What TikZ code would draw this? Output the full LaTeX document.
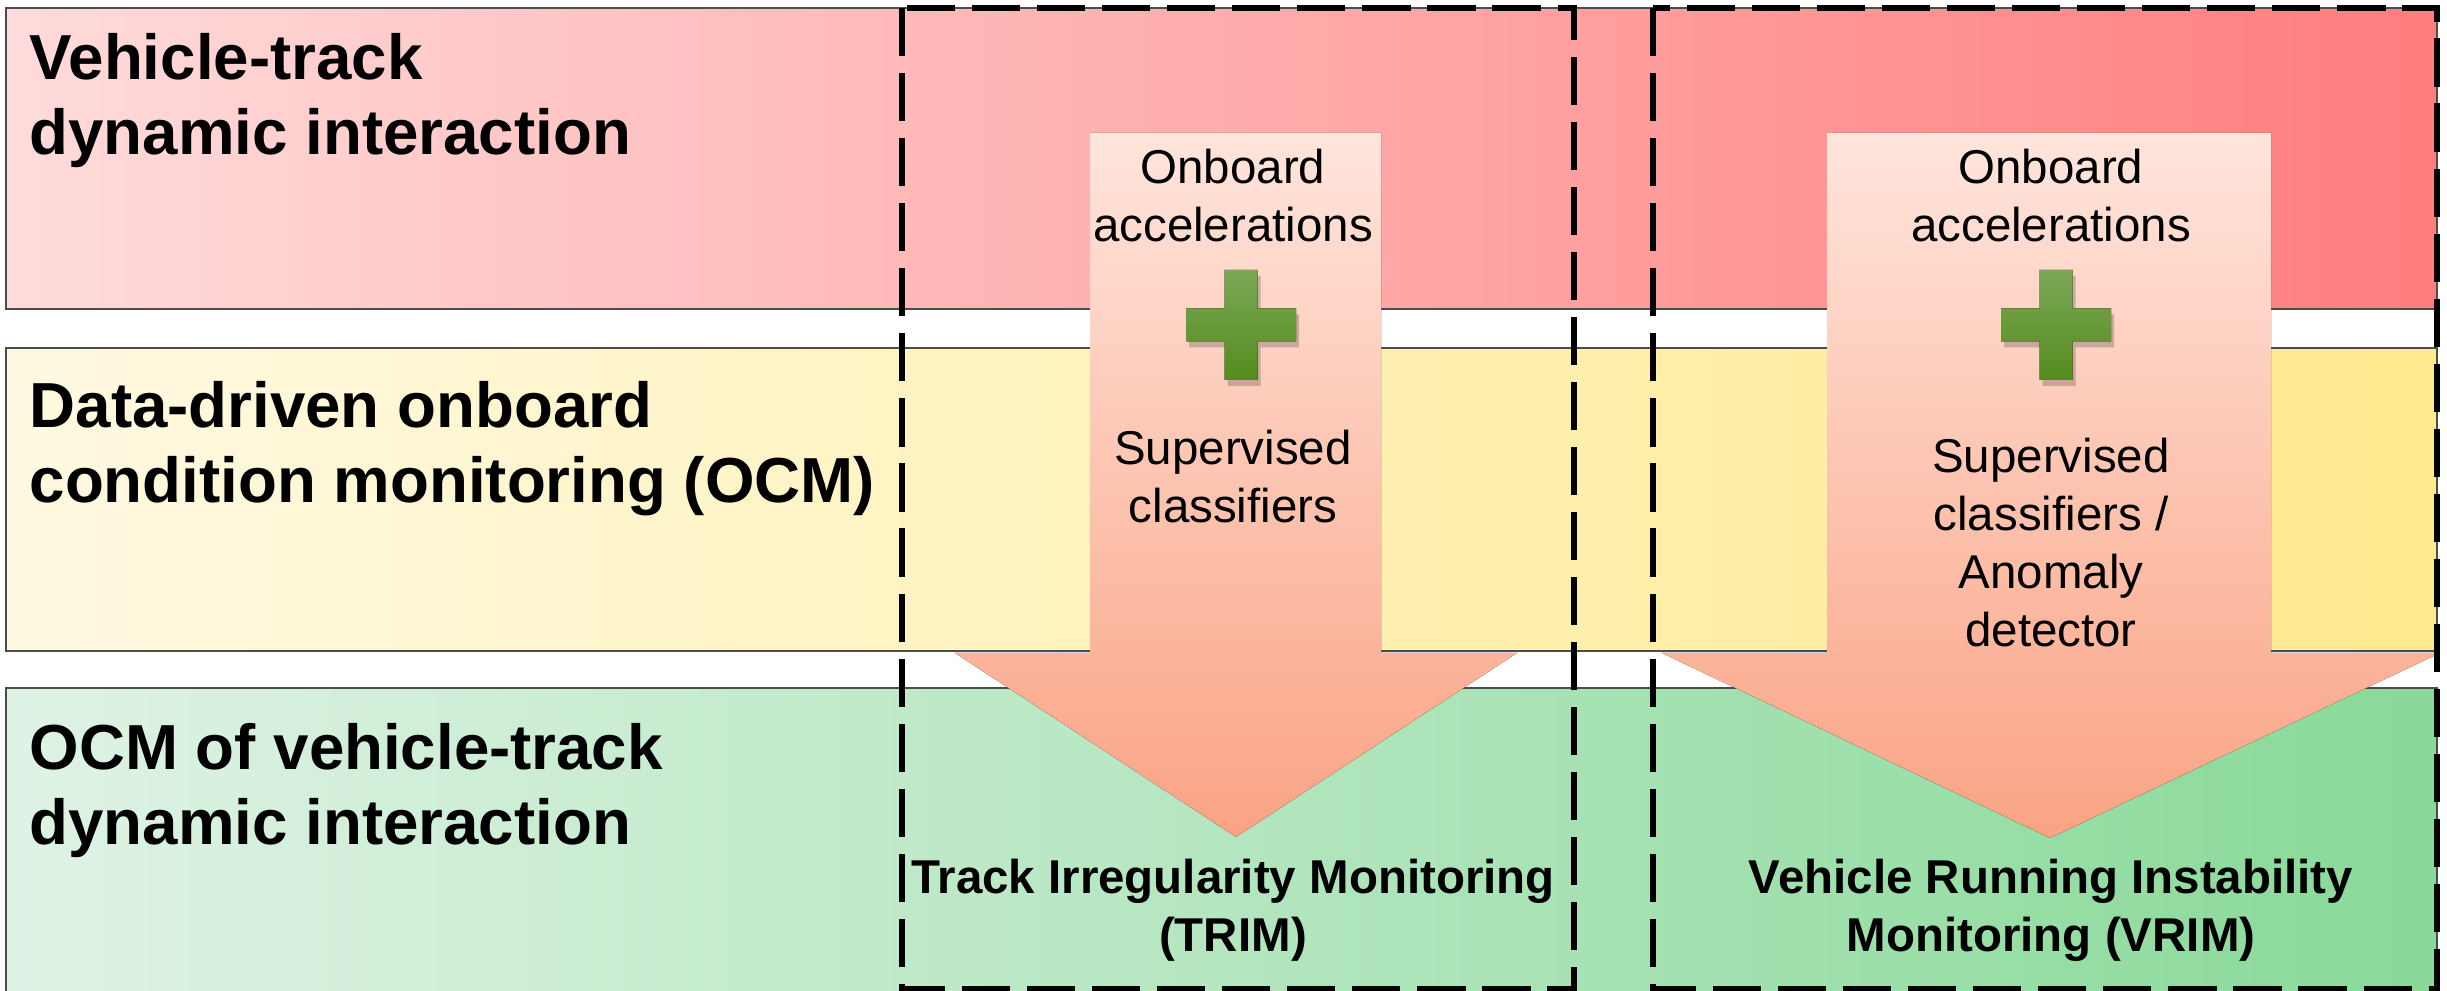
\documentclass[tikz,border=0pt]{standalone}
\usepackage{fontspec}
\setmainfont{Liberation Sans}

\definecolor{redL}{RGB}{255,219,219}
\definecolor{redR}{RGB}{255,126,126}
\definecolor{yelL}{RGB}{255,249,226}
\definecolor{yelR}{RGB}{255,234,142}
\definecolor{grnL}{RGB}{223,243,229}
\definecolor{grnR}{RGB}{137,217,153}
\definecolor{arrTop}{RGB}{255,229,220}
\definecolor{arrBot}{RGB}{250,163,132}
\definecolor{plusTop}{RGB}{124,167,86}
\definecolor{plusBot}{RGB}{84,140,30}

\begin{document}
\begin{tikzpicture}[x=0.01cm, y=0.01cm,
  band/.style={draw=black!70, line width=0.5pt},
  frame/.style={line width=1.6pt, dash pattern=on 13.7pt off 4.8pt},
  rowlabel/.style={anchor=base west, align=left, inner sep=0pt, font=\fontsize{18.1}{21.6}\selectfont\bfseries},
  flowtext/.style={anchor=base, align=center, inner sep=0pt, font=\fontsize{13.5}{16.5}\selectfont},
  flowarrow/.style={top color=arrTop, bottom color=arrBot}]
\clip (0,0) rectangle (2447,991);
\fill[white] (0,0) rectangle (2447,991);
\draw[band, left color=redL, right color=redR] (6,983) rectangle (2437,682);
\draw[band, left color=yelL, right color=yelR] (6,643) rectangle (2437,340);
\draw[band, left color=grnL, right color=grnR] (6,303) rectangle (2437,-20);
\fill[flowarrow] (1090,858) -- (1381,858) -- (1381,338) -- (1517,338) -- (1236,154) -- (955,338) -- (1090,338) -- cycle;
\fill[flowarrow] (1827,858) -- (2271,858) -- (2271,338) -- (2440,338) -- (2050,153) -- (1662,338) -- (1827,338) -- cycle;
\foreach \cx in {1241,2056} {
  \fill[black, opacity=0.2] ([shift={(3,-6)}]\cx,666) ++(-16.5,55) -- ++(33,0) -- ++(0,-38.5) -- ++(38.5,0) -- ++(0,-33) -- ++(-38.5,0) -- ++(0,-38.5) -- ++(-33,0) -- ++(0,38.5) -- ++(-38.5,0) -- ++(0,33) -- ++(38.5,0) -- cycle;
  \fill[top color=plusTop, bottom color=plusBot] (\cx,666) ++(-16.5,55) -- ++(33,0) -- ++(0,-38.5) -- ++(38.5,0) -- ++(0,-33) -- ++(-38.5,0) -- ++(0,-38.5) -- ++(-33,0) -- ++(0,38.5) -- ++(-38.5,0) -- ++(0,33) -- ++(38.5,0) -- cycle;
}
\node[rowlabel] (rowtop) at (29,836) {Vehicle-track\\dynamic interaction};
\node[rowlabel] (rowmid) at (29,488) {Data-driven onboard\\condition monitoring (OCM)};
\node[rowlabel] (rowbot) at (29,146) {OCM of vehicle-track\\dynamic interaction};
\node[flowtext] (accTrim) at (1233,749) {Onboard\\accelerations};
\node[flowtext] (accVrim) at (2051,749) {Onboard\\accelerations};
\node[flowtext] (clsTrim) at (1233,468) {Supervised\\classifiers};
\node[flowtext] (clsVrim) at (2051,344) {Supervised\\classifiers /\\Anomaly\\detector};
\node[flowtext, font=\fontsize{13.5}{16.5}\selectfont\bfseries] (trim) at (1233,39) {Track Irregularity Monitoring\\(TRIM)};
\node[flowtext, font=\fontsize{13.5}{16.5}\selectfont\bfseries] (vrim) at (2051,39) {Vehicle Running Instability\\Monitoring (VRIM)};
\draw[frame] (902,983) rectangle (1574,2);
\draw[frame] (1653,983) rectangle (2437,2);
\end{tikzpicture}
\end{document}
